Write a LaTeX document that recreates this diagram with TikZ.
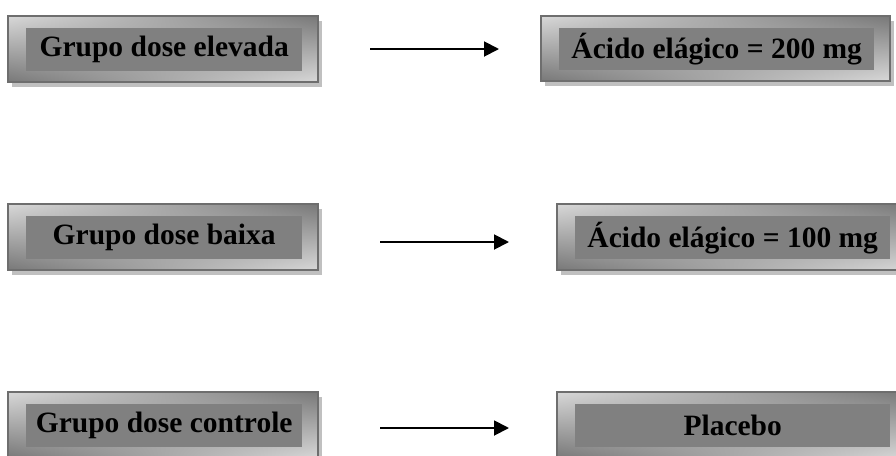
\documentclass[tikz,border=0pt]{standalone}
\usepackage{fontspec}
\setmainfont{Liberation Serif}
\usetikzlibrary{arrows.meta,shadings}
\definecolor{lite}{HTML}{D8D8D8}
\definecolor{dark}{HTML}{787878}
\definecolor{shadowc}{HTML}{C0C0C0}
\definecolor{framec}{HTML}{6E6E6E}
\definecolor{innerc}{HTML}{808080}
\tikzset{
  innerbox/.style={fill=innerc, inner sep=0pt, anchor=north west, align=center,
    font=\fontsize{29.5}{34}\selectfont\bfseries},
  arr/.style={line width=1.9pt, -{Triangle[length=15pt,width=15pt]}},
}
\newcommand\grbox[6]{%
  \fill[shadowc] (#2+4,#3+5) rectangle (#4+4,#5+5);
  \shade[upper left=lite, upper right=dark, lower left=dark, lower right=lite] (#2,#3) rectangle (#4,#5);
  \draw[framec, line width=1.5pt] (#2,#3) rectangle (#4,#5);
  \node[innerbox, minimum width={#4-#2-34}, minimum height={#5-#3-23}] (#1) at (#2+18,#3+12) {#6};
}
\begin{document}
\begin{tikzpicture}[x=1pt,y=-1pt]
\useasboundingbox (0,0) rectangle (896,455);
\clip (0,0) rectangle (896,455);
\grbox{g1}{8}{16}{318}{82}{Grupo dose elevada}
\grbox{a1}{541}{16}{890}{81}{Ácido elágico = 200 mg}
\grbox{g2}{8}{204}{318}{270}{Grupo dose baixa}
\grbox{a2}{557}{204}{906}{270}{Ácido elágico = 100 mg}
\grbox{g3}{8}{392}{318}{458}{Grupo dose controle}
\grbox{a3}{557}{392}{906}{458}{Placebo}
\coordinate (s1) at (370,49);
\coordinate (e1) at (499,49);
\coordinate (s2) at (380,242);
\coordinate (e2) at (509,242);
\coordinate (s3) at (380,428);
\coordinate (e3) at (509,428);
\draw[arr] (s1) -- (e1);
\draw[arr] (s2) -- (e2);
\draw[arr] (s3) -- (e3);
\end{tikzpicture}
\end{document}
